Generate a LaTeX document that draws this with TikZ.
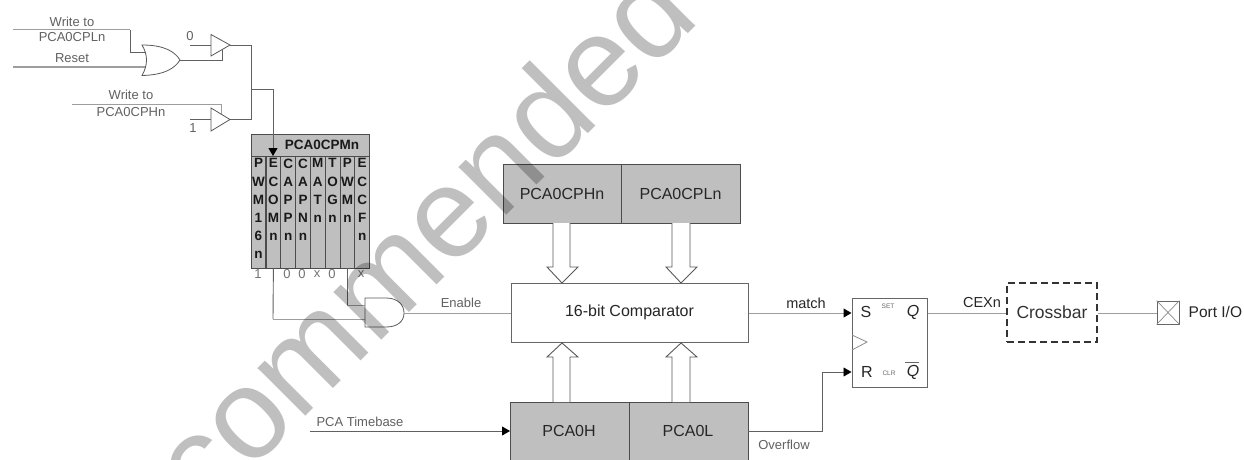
\documentclass[tikz,border=0pt]{standalone}
\usepackage{fontspec}
\setmainfont{Liberation Sans}
\usetikzlibrary{arrows.meta,calc}
\newcommand{\fsz}[1]{\fontsize{#1}{#1}\selectfont}
\tikzset{
  wire/.style={draw=black!62,line width=0.9pt},
  lightwire/.style={draw=black!38,line width=1pt},
  darrow/.style={wire,-{Triangle[length=8pt,width=9pt,fill=black,color=black]}},
  graybox/.style={draw=black!70,line width=1pt,fill=black!25,minimum height=59pt,inner sep=0pt,text=black!85,font=\fsz{16}},
  whitebox/.style={draw=black!60,line width=1pt,fill=white,inner sep=0pt,text=black!85,font=\fsz{16}},
  lbl/.style={inner sep=0pt,text=black!62,font=\fsz{13}},
  gate/.style={draw=black!65,line width=0.8pt,fill=white},
  hollow/.style={draw=black!65,line width=0.9pt,fill=white},
  regcol/.style={draw=black!70,line width=0.9pt,fill=black!25,inner sep=0pt,minimum width=14.8pt,minimum height=112pt},
  regtxt/.style={inner sep=0pt,align=center,text=black!90,font=\fontsize{13.5}{18.2}\selectfont\bfseries,anchor=north},
  bitlbl/.style={inner sep=0pt,text=black!55,font=\fsz{13}},
  ffl/.style={inner sep=0pt,text=black!85,font=\fsz{16}},
  ffs/.style={inner sep=0pt,text=black!60,font=\fsz{6.5}},
  wm/.style={inner sep=0pt,anchor=base west,rotate=45,text=black,text opacity=0.25,font=\fsz{128}}
}
\begin{document}
\begin{tikzpicture}[x=1pt,y=-1pt]
\useasboundingbox (0,0) rectangle (1244,460);
\clip (0,0) rectangle (1244,460);
\fill[white] (0,0) rectangle (1244,460);

% upper left logic
\node[lbl] (t1) at (72,22) {Write to};
\node[lbl] (t2) at (72,37.5) {PCA0CPLn};
\node[lbl] (t3) at (72,58) {Reset};
\node[lbl] (t4) at (131,95) {Write to};
\node[lbl] (t5) at (131,112) {PCA0CPHn};
\node[lbl] (z0) at (190,36) {0};
\node[lbl] (o1) at (193,128) {1};

\coordinate (wl) at (13,30);
\coordinate (rs) at (13,67);
\coordinate (orA) at (147,52.5);
\coordinate (orB) at (147,67);
\coordinate (orOut) at (180,60);
\coordinate (b1In) at (211,45);
\coordinate (b1Out) at (230,45);
\coordinate (b1En) at (222,50);
\coordinate (b2In) at (211,119.5);
\coordinate (b2Out) at (230,119.5);
\coordinate (b2En) at (221,114);
\coordinate (zs) at (190,45);
\coordinate (os) at (190,119.5);
\coordinate (wh) at (72,104);
\coordinate (bus) at (251,89);

\draw[lightwire] (wl) -- (130,30);
\draw[wire] (130,30) -- (130,52.5) -- (orA);
\draw[lightwire] (rs) -- (orB);
\draw[wire] (orOut) -- (222,60) -- (b1En);
\draw[wire] (zs) -- (b1In);
\draw[wire] (os) -- (b2In);
\draw[lightwire] (wh) -- (221,104) -- (b2En);
\draw[wire] (b1Out) -- (251,45) -- (251,119.5) -- (b2Out);
\draw[gate] (142,45) .. controls (165,45) and (175,52) .. (orOut) .. controls (175,68) and (165,75) .. (142,75.5) .. controls (148,65) and (148,55) .. cycle;
\draw[gate] (211,34.5) -- (b1Out) -- (211,56) -- cycle;
\draw[gate] (211,108) -- (b2Out) -- (211,131) -- cycle;

% register
\node[draw=black!70,line width=0.9pt,fill=black!25,minimum width=118pt,minimum height=22pt,inner sep=0pt] (hdr) at (310,145) {};
\node[inner sep=0pt,text=black!90,font=\fsz{13.5}\bfseries] (hdrt) at (322,145) {PCA0CPMn};
\foreach \n/\x/\s in {a/258.5/{P\\W\\M\\1\\6\\n},b/273.4/{E\\C\\O\\M\\n},c/288.2/{C\\A\\P\\P\\n},d/303/{C\\A\\P\\N\\n},e/317.8/{M\\A\\T\\n},f/332.6/{T\\O\\G\\n},g/347.4/{P\\W\\M\\n},h/362.2/{E\\C\\C\\F\\n}}{
  \node[regcol] (col\n) at (\x,212) {};
  \node[regtxt] (txt\n) at (\x,158.5) {\s};
}
\foreach \n/\x/\s in {p/258/1,q/287/0,r/302/0,s/317/x,t/332/0,u/361/x}{
  \node[bitlbl] (bit\n) at (\x,274.5) {\s};
}
\coordinate (regIn) at (273,156);
\draw[darrow] (bus) -- (273,89) -- (regIn);

% AND gate
\coordinate (anA) at (365,305);
\coordinate (anB) at (365,319);
\coordinate (anOut) at (404,313);
\draw[wire] (colb.south) -- (273,319);
\draw[lightwire] (273,319) -- (anB);
\draw[wire] (347,268) -- (347,305);
\draw[lightwire] (347,305) -- (anA);
\draw[gate] (365,298) -- (386,298) .. controls (398,298) and (404,305) .. (anOut) .. controls (404,321) and (398,327) .. (386,327) -- (365,327) -- cycle;

% boxes
\node[whitebox,minimum width=237pt,minimum height=59pt] (cmp) at (629.5,312.5) {16-bit Comparator};
\node[graybox,minimum width=118pt] (cph) at (562,193.5) {PCA0CPHn};
\node[graybox,minimum width=119pt] (cpl) at (680.5,193.5) {PCA0CPLn};
\node[graybox,minimum width=119pt,minimum height=80pt] (pch) at (569.5,442) {};
\node[graybox,minimum width=119pt,minimum height=80pt] (pcl) at (688.5,442) {};
\node[inner sep=0pt,text=black!85,font=\fsz{16}] (pchT) at (569,431) {PCA0H};
\node[inner sep=0pt,text=black!85,font=\fsz{16}] (pclT) at (688,431) {PCA0L};

% hollow arrows
\draw[hollow] (553,223) -- (553,267) -- (547,267) -- (562,283) -- (578,267) -- (570,267) -- (570,223);
\draw[hollow] (672,223) -- (672,267) -- (666,267) -- (681,283) -- (697,267) -- (690,267) -- (690,223);
\draw[hollow] (553,402) -- (553,357) -- (547,357) -- (562,343) -- (578,357) -- (570,357) -- (570,402);
\draw[hollow] (672,402) -- (672,357) -- (666,357) -- (681,343) -- (697,357) -- (690,357) -- (690,402);

% connectors
\draw[lightwire] (anOut) -- (cmp.west |- anOut);
\node[lbl] (en) at (461,303) {Enable};
\coordinate (tb) at (310,431);
\draw[darrow] (tb) -- (510,431);
\node[lbl] (tbT) at (360,422) {PCA Timebase};
\node[lbl] (ov) at (784,445) {Overflow};

% flip-flop
\node[whitebox,minimum width=75pt,minimum height=89pt] (ff) at (889.5,342.5) {};
\draw[lightwire,-{Triangle[length=8pt,width=9pt,fill=black,color=black]}] (cmp.east |- 0,313) -- (ff.west |- 0,313);
\draw[darrow] (748,431) -- (822,431) -- (822,372) -- (ff.west |- 0,372);
\draw[draw=black!45,line width=0.8pt] (852,335) -- (867,342) -- (852,350);
\node[inner sep=0pt,text=black!85,font=\fsz{14.5}] (mt) at (806,303) {match};
\node[ffl] (fS) at (866,312) {S};
\node[ffs] (fSet) at (888,306) {SET};
\node[ffl,font=\fsz{16}\itshape] (fQ) at (913,312) {Q};
\node[ffl] (fR) at (867,372) {R};
\node[ffs] (fClr) at (889,373) {CLR};
\node[ffl,font=\fsz{16}\itshape] (fQb) at (913,372.5) {Q};
\draw[black!60,line width=0.8pt] (905,362.5) -- (919,362.5);

% right part
\node[draw=black!80,line width=1.2pt,dash pattern=on 7pt off 4pt,fill=white,inner sep=0pt,minimum width=90pt,minimum height=59pt,text=black!80,font=\fsz{17.5}] (xb) at (1052,312.5) {Crossbar};
\node[inner sep=0pt,text=black!85,font=\fsz{14.5}] (cx) at (982,303) {CEXn};
\node[draw=black!60,line width=0.9pt,minimum width=22pt,minimum height=23pt,inner sep=0pt] (port) at (1168,312.5) {};
\draw[black!45,line width=0.7pt] (port.north west) -- (port.south east) (port.north east) -- (port.south west);
\node[inner sep=0pt,text=black!85,font=\fsz{15.5},anchor=west] (pt) at (1188.5,312) {Port I/O};
\draw[lightwire] (ff.east |- 0,313) -- (xb.west |- 0,313);
\draw[lightwire] (xb.east |- 0,313) -- (port.west |- 0,313);

% watermark
\node[wm] (wmk) at (204,518) {commended};
\end{tikzpicture}
\end{document}
